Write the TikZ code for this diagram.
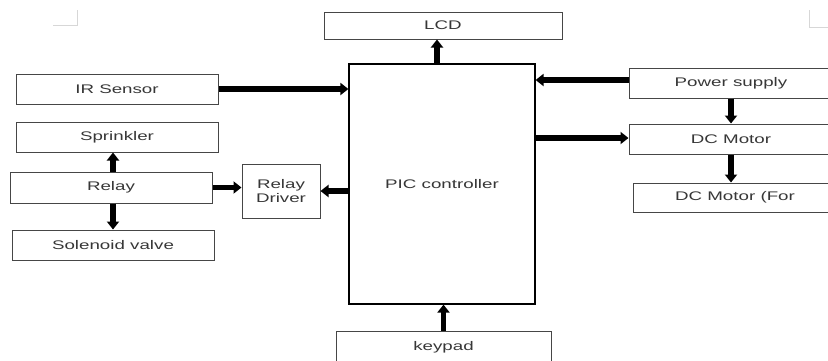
\documentclass[tikz,border=0pt]{standalone}
\usepackage{fontspec}
\setmainfont{Liberation Sans}[FakeStretch=1.5]
\usepackage{xcolor}
\definecolor{bdgray}{RGB}{70,70,70}
\definecolor{txtgray}{RGB}{55,55,55}
\definecolor{markgray}{RGB}{215,215,215}
\usepackage{tikz}
\usetikzlibrary{arrows.meta, positioning, calc}

\tikzset{
  blk/.style={draw=bdgray, line width=1pt, fill=white, text=txtgray,
              font=\fontsize{12.5}{14.5}\selectfont, align=center,
              inner sep=0pt, minimum height=30pt},
  flow/.style={line width=5.5pt, black,
               -{Triangle[length=8pt, width=12pt]}},
}

\begin{document}
\begin{tikzpicture}[x=1pt, y=-1pt]
      \useasboundingbox (0,0) rectangle (828,360);
      \clip (0,0) rectangle (828,360);

      % corner marks
      \draw[markgray, line width=1pt] (77,10) -- (77,25) -- (53,25);
      \draw[markgray, line width=1pt] (809,10) -- (809,27) -- (828,27);

      % controller and blocks
      \node[blk, draw=black, line width=1.2pt, minimum width=186pt,
            minimum height=240pt] (pic) at (442,184) {PIC controller};
      \node[blk, minimum width=238pt, minimum height=27pt] (lcd) at (443,25.5) {LCD};
      \node[blk, minimum width=202pt] (ir) at (117,89) {IR Sensor};
      \node[blk, minimum width=202pt] (sprinkler) at (117,137) {Sprinkler};
      \node[blk, minimum width=202pt, minimum height=31pt] (relay) at (111,187.5) {Relay};
      \node[blk, minimum width=202pt] (valve) at (113,245) {Solenoid valve};
      \node[blk, minimum width=78pt, minimum height=54pt] (driver) at (281,191) {Relay\\Driver};
      \node[blk, minimum width=215pt, minimum height=32pt] (keypad) at (443.5,347) {keypad};
      \node[blk, minimum width=204pt] (power) at (731,83) {Power supply};
      \node[blk, minimum width=204pt] (motor) at (731,139) {DC Motor};
      \node[blk, minimum width=204pt, minimum height=29pt] (motorfor) at (735,197.5) {DC Motor (For};

      % connections
      \draw[flow] (ir.east) -- (ir.east -| pic.west);
      \draw[flow] ([xshift=-5pt]pic.north) -- ([xshift=-5pt]pic.north |- lcd.south);
      \draw[flow] ([yshift=3pt]power.west) -- ([yshift=3pt]power.west -| pic.east);
      \draw[flow] ([yshift=1pt]motor.west -| pic.east) -- ([yshift=1pt]motor.west);
      \draw[flow] (power.south) -- (motor.north);
      \draw[flow] (motor.south) -- (motor.south |- motorfor.north);
      \draw[flow] (keypad.north) -- (keypad.north |- pic.south);
      \draw[flow] ([xshift=2pt]relay.north) -- ([xshift=2pt]relay.north |- sprinkler.south);
      \draw[flow] ([xshift=2pt]relay.south) -- ([xshift=2pt]relay.south |- valve.north);
      \draw[flow] (relay.east) -- (relay.east -| driver.west);
      \draw[flow] (driver.east -| pic.west) -- (driver.east);
    \end{tikzpicture}
\end{document}
